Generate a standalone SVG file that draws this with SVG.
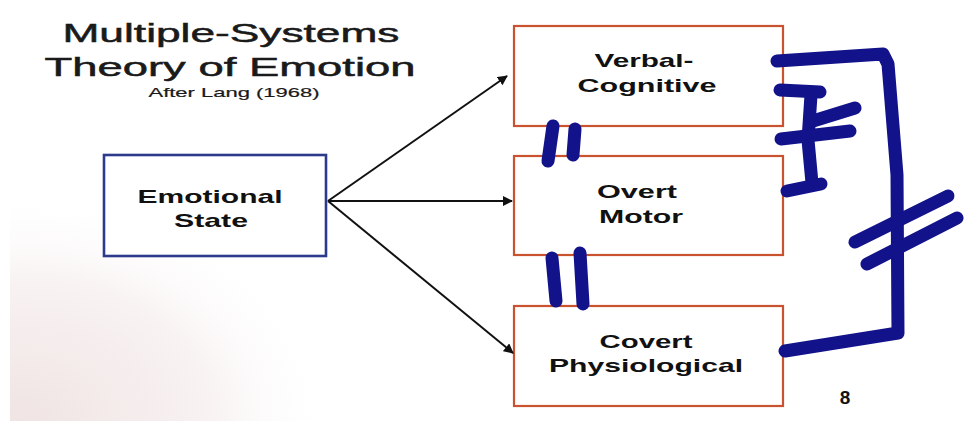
<svg xmlns="http://www.w3.org/2000/svg" width="964" height="421" viewBox="0 0 964 421">
  <defs>
    <radialGradient id="haze" cx="0.02" cy="1" r="0.55" gradientTransform="scale(0.6 1)">
      <stop offset="0" stop-color="#f0e4e4"/>
      <stop offset="0.6" stop-color="#f8f2f2"/>
      <stop offset="1" stop-color="#ffffff" stop-opacity="0"/>
    </radialGradient>
    <marker id="arrow" viewBox="0 0 10 10" refX="9" refY="5" markerWidth="5" markerHeight="5" orient="auto" markerUnits="strokeWidth">
      <path d="M0,0 L10,5 L0,10 z" fill="#111"/>
    </marker>
    <style>
      .title { font-family: "Liberation Sans", Arial, sans-serif; fill: #1a1a1a; stroke: #1a1a1a; stroke-width: 0.5; }
      .lbl { font-family: "Liberation Sans", Arial, sans-serif; font-weight: bold; fill: #111; font-size: 19px; }
      .box-red { fill: #ffffff; stroke: #c9532f; stroke-width: 2.2; }
      .box-blue { fill: #ffffff; stroke: #2c3a8c; stroke-width: 2.6; }
      .conn { stroke: #111; stroke-width: 2; fill: none; marker-end: url(#arrow); }
      .ink { stroke: #12128a; stroke-width: 13; fill: none; stroke-linecap: round; stroke-linejoin: round; }
    </style>
  </defs>
  <rect x="0" y="0" width="964" height="421" fill="#ffffff"/>
  <rect x="10" y="0" width="954" height="421" fill="url(#haze)"/>

  <g id="title">
    <text class="title" x="231" y="42" font-size="26" text-anchor="middle" textLength="337" lengthAdjust="spacingAndGlyphs">Multiple-Systems</text>
    <text class="title" x="230" y="76" font-size="26" text-anchor="middle" textLength="371" lengthAdjust="spacingAndGlyphs">Theory of Emotion</text>
    <text class="title" x="234" y="97" font-size="13" text-anchor="middle" textLength="171" lengthAdjust="spacingAndGlyphs" style="stroke-width:0.2">After Lang (1968)</text>
  </g>

  <g id="emotional-state">
    <rect class="box-blue" x="104" y="155" width="222" height="101"/>
    <text class="lbl" x="210" y="203" text-anchor="middle" textLength="145" lengthAdjust="spacingAndGlyphs">Emotional</text>
    <text class="lbl" x="211" y="227" text-anchor="middle" textLength="74" lengthAdjust="spacingAndGlyphs">State</text>
  </g>

  <g id="verbal-cognitive">
    <rect class="box-red" x="514" y="26" width="269" height="100"/>
    <text class="lbl" x="644" y="67" text-anchor="middle" textLength="99" lengthAdjust="spacingAndGlyphs">Verbal-</text>
    <text class="lbl" x="647" y="92" text-anchor="middle" textLength="139" lengthAdjust="spacingAndGlyphs">Cognitive</text>
  </g>

  <g id="overt-motor">
    <rect class="box-red" x="514" y="156" width="269" height="99"/>
    <text class="lbl" x="637" y="198" text-anchor="middle" textLength="80" lengthAdjust="spacingAndGlyphs">Overt</text>
    <text class="lbl" x="641" y="223" text-anchor="middle" textLength="84" lengthAdjust="spacingAndGlyphs">Motor</text>
  </g>

  <g id="covert-physiological">
    <rect class="box-red" x="514" y="306" width="269" height="100"/>
    <text class="lbl" x="646" y="348" text-anchor="middle" textLength="93" lengthAdjust="spacingAndGlyphs">Covert</text>
    <text class="lbl" x="646" y="372" text-anchor="middle" textLength="194" lengthAdjust="spacingAndGlyphs">Physiological</text>
  </g>

  <g id="connectors">
    <line class="conn" x1="328" y1="201" x2="507" y2="76"/>
    <line class="conn" x1="328" y1="201" x2="512" y2="201"/>
    <line class="conn" x1="328" y1="201" x2="513" y2="353"/>
  </g>

  <g id="annotations">
    <path class="ink" d="M777,61 L883,54 L888,64 L897,175 L898,333 L785,351"/>
    <path class="ink" d="M855,242 L948,196"/>
    <path class="ink" d="M867,264 L957,218"/>
    <path class="ink" d="M780,90 L820,92"/>
    <path class="ink" d="M811,95 L808,140 L812,183"/>
    <path class="ink" d="M787,191 L821,184"/>
    <path class="ink" d="M813,121 L855,108"/>
    <path class="ink" d="M781,139 L850,131"/>
    <path class="ink" d="M553,126 L548,161"/>
    <path class="ink" d="M575,129 L573,155"/>
    <path class="ink" d="M552,258 L556,301"/>
    <path class="ink" d="M580,253 L583,304"/>
  </g>

  <g id="page-number">
    <text class="lbl" x="845" y="404" font-size="11" text-anchor="middle">8</text>
  </g>
</svg>
